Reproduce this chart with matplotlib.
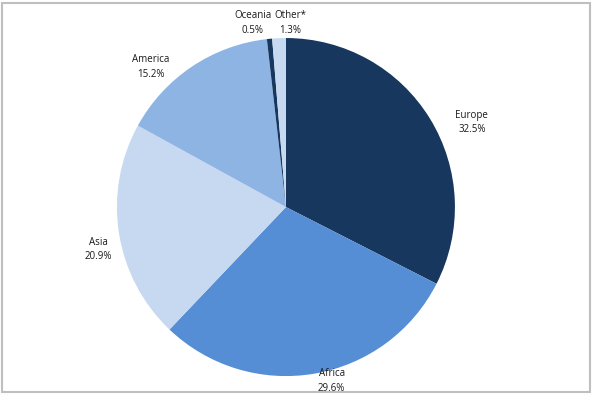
import matplotlib

matplotlib.use("Agg")

import matplotlib.pyplot as plt
from matplotlib.patches import Rectangle

regions = ["Europe", "Africa", "Asia", "America", "Oceania", "Other*"]
shares = [32.5, 29.6, 20.9, 15.2, 0.5, 1.3]
colors = ["#17375E", "#558ED5", "#C6D9F1", "#8EB4E3", "#17375E", "#C6D9F1"]

# label centres in pie-radius units (centre of pie = 0,0)
label_pos = [(1.10, 0.50), (0.27, -1.03), (-1.11, -0.25),
             (-0.80, 0.83), (-0.195, 1.09), (0.025, 1.09)]

plt.rcParams["font.family"] = ["Open Sans", "DejaVu Sans"]

fig = plt.figure(figsize=(5.93, 3.95), dpi=100)
ax = fig.add_axes([0, 0, 1, 1])
ax.pie(shares, colors=colors, startangle=90, counterclock=False,
       radius=1.0, wedgeprops={"linewidth": 0})
ax.set_xlim(-1.692, 1.817)
ax.set_ylim(-1.112, 1.225)
ax.set_aspect("auto")
ax.axis("off")

for name, val, (x, y) in zip(regions, shares, label_pos):
    ax.text(x, y, f"{name}\n{val:.1f}%", ha="center", va="center",
            fontsize=7, linespacing=1.45, color="#1a1a1a")

fig.patches.append(Rectangle((1.5 / 593, 3 / 395), 588 / 593, 389 / 395,
                             transform=fig.transFigure, fill=False,
                             edgecolor="#BFBFBF", linewidth=1.5))

fig.savefig("out.png", dpi=100)
